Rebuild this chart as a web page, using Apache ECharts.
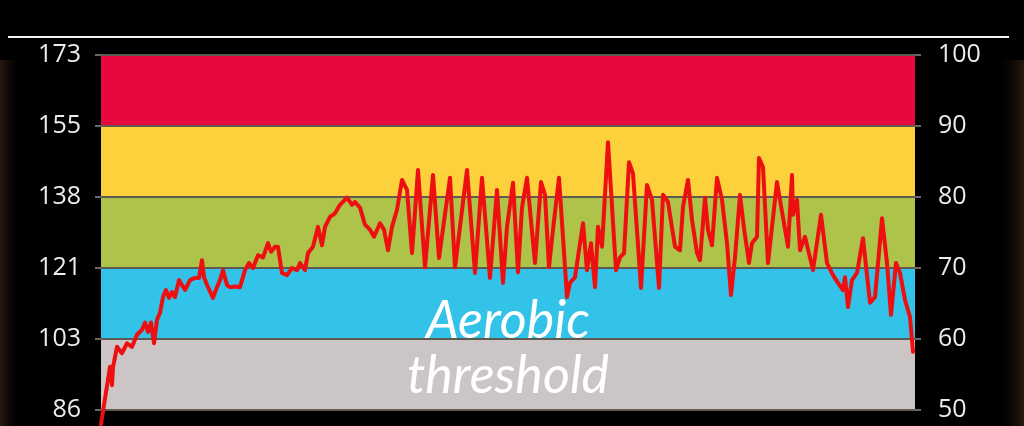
<!DOCTYPE html>
<html>
<head>
<meta charset="utf-8">
<script src="https://cdn.jsdelivr.net/npm/echarts@6/dist/echarts.min.js"></script>
<style>
  html, body { margin: 0; padding: 0; background: #000; }
  #chart { width: 1024px; height: 426px; }
</style>
</head>
<body>
<div id="chart"></div>
<script>
// Heart-rate zone boundaries (% of max HR) and tick labels
const zoneBounds = [50, 60, 70, 80, 90, 100];
const leftTickLabels = ['86', '103', '121', '138', '155', '173'];   // bpm
const rightTickLabels = ['50', '60', '70', '80', '90', '100'];     // % of max
const zoneLabel = ['Aerobic', 'threshold'];

// [elapsed minutes, heart rate % of max]
const samples = [
  [0, 48.0], [0.9, 56.1], [1.1, 53.5], [1.2, 56.0], [1.6, 58.9], [2.1, 58.0], [2.6, 59.4], [3.1, 58.9],
  [3.6, 60.6], [4.1, 61.3], [4.4, 62.3], [4.7, 61.0], [5.0, 62.3], [5.3, 59.4], [5.6, 62.7], [5.9, 63.7],
  [6.2, 65.9], [6.5, 66.9], [6.8, 65.8], [7.1, 66.6], [7.4, 65.9], [7.8, 68.3], [8.1, 67.6], [8.4, 66.9],
  [8.9, 68.3], [9.4, 68.6], [9.8, 68.6], [10.1, 71.1], [10.3, 68.7], [10.7, 67.3], [11.2, 65.8], [11.6, 67.3],
  [11.9, 68.3], [12.2, 69.7], [12.6, 67.6], [12.9, 67.3], [13.4, 67.4], [13.9, 67.3], [14.4, 69.7], [14.8, 70.7],
  [15.2, 70.0], [15.7, 71.8], [16.2, 71.5], [16.7, 73.5], [17.0, 72.3], [17.4, 73.0], [17.7, 73.0], [18.1, 69.3],
  [18.6, 69.0], [19.1, 70.0], [19.6, 69.7], [19.9, 70.7], [20.4, 69.7], [20.7, 72.1], [21.2, 73.0], [21.7, 75.8],
  [22.1, 73.2], [22.4, 75.8], [22.9, 77.2], [23.4, 77.7], [23.9, 78.9], [24.6, 79.9], [25.1, 78.9], [25.4, 79.3],
  [25.9, 78.5], [26.4, 76.1], [26.9, 75.4], [27.3, 74.4], [27.9, 76.3], [28.3, 75.4], [28.7, 72.5], [29.1, 75.8],
  [29.6, 78.2], [30.1, 82.4], [30.6, 81.0], [31.1, 72.1], [31.7, 83.8], [32.4, 70.1], [33.2, 83.1], [33.8, 71.4],
  [34.9, 82.7], [35.4, 70.1], [36.6, 83.8], [37.4, 69.3], [38.1, 82.7], [38.9, 68.6], [39.6, 81.0], [40.2, 67.9],
  [40.6, 75.8], [41.2, 82.0], [41.7, 69.4], [42.1, 78.5], [42.6, 82.7], [43.4, 70.7], [44.0, 82.1], [44.4, 80.3],
  [44.8, 70.1], [45.2, 75.4], [45.8, 82.7], [46.6, 65.9], [46.9, 67.9], [47.4, 68.7], [48.2, 76.3], [48.6, 69.7],
  [49.0, 73.5], [49.4, 67.3], [49.7, 75.8], [50.1, 73.0], [50.7, 87.7], [51.5, 69.7], [51.9, 71.5], [52.3, 72.1],
  [52.8, 84.9], [53.2, 83.3], [54.0, 67.2], [54.6, 81.7], [55.1, 79.6], [55.8, 67.2], [56.2, 80.3], [56.7, 79.3],
  [57.4, 73.0], [57.9, 72.5], [58.2, 78.6], [58.7, 82.4], [59.1, 76.8], [59.6, 72.1], [59.9, 71.1], [60.4, 79.9],
  [60.7, 75.4], [61.1, 73.2], [61.6, 82.7], [62.1, 79.6], [62.6, 73.5], [63.0, 66.2], [63.4, 71.5], [63.9, 80.3],
  [64.3, 75.6], [64.8, 70.7], [65.1, 73.5], [65.6, 74.4], [65.8, 85.5], [66.2, 84.2], [66.7, 70.7], [67.6, 82.1],
  [67.9, 79.6], [68.7, 73.0], [69.1, 83.1], [69.2, 77.5], [69.6, 79.6], [69.9, 72.5], [70.4, 74.4], [71.2, 69.7],
  [72.0, 77.5], [72.6, 70.7], [73.2, 69.0], [73.7, 67.9], [74.2, 66.9], [74.4, 68.7], [74.7, 64.5], [75.1, 68.3],
  [75.6, 69.3], [76.2, 74.2], [76.9, 65.1], [77.4, 65.9], [78.1, 77.0], [78.6, 70.7], [79.0, 63.4], [79.5, 70.7],
  [79.9, 69.3], [80.4, 65.5], [80.9, 63.1], [81.2, 58.2]
];

const zoneColors = ['#cbc5c6', '#33c2e8', '#adc34a', '#fdd13b', '#e8083f'];

const bandData = [];
for (let i = 0; i < zoneBounds.length - 1; i++) {
  bandData.push([
    { yAxis: zoneBounds[i], itemStyle: { color: zoneColors[i] } },
    { yAxis: zoneBounds[i + 1] }
  ]);
}

const chart = echarts.init(document.getElementById('chart'), null, { renderer: 'canvas' });

const axisCommon = {
  type: 'value', min: 50, max: 100, interval: 10,
  axisLine: { show: false },
  axisTick: { show: true, length: 6, lineStyle: { color: '#8a8a8a', width: 1.5 } },
  splitLine: { show: true, lineStyle: { color: '#5e5a52', width: 2 } },
  z: 1.5
};

chart.setOption({
  backgroundColor: '#000',
  animation: false,
  grid: { left: 101, right: 109, top: 55, bottom: 16, containLabel: false },
  xAxis: { type: 'value', min: 0, max: 81.4, show: false },
  yAxis: [
    Object.assign({}, axisCommon, {
      position: 'left',
      axisLabel: {
        color: '#ececec', fontFamily: 'Open Sans', fontSize: 25, margin: 20,
        formatter: v => leftTickLabels[Math.round((v - 50) / 10)]
      }
    }),
    Object.assign({}, axisCommon, {
      position: 'right',
      splitLine: { show: false },
      axisLabel: {
        color: '#ececec', fontFamily: 'Open Sans', fontSize: 25, margin: 23,
        formatter: v => rightTickLabels[Math.round((v - 50) / 10)]
      }
    })
  ],
  graphic: [
    { type: 'rect', shape: { x: 0, y: 60, width: 22, height: 366 }, silent: true, z: -10,
      style: { fill: new echarts.graphic.LinearGradient(0, 0, 1, 0, [
        { offset: 0, color: 'rgba(60,34,24,0.7)' }, { offset: 1, color: 'rgba(0,0,0,0)' }]) } },
    { type: 'rect', shape: { x: 996, y: 60, width: 28, height: 366 }, silent: true, z: -10,
      style: { fill: new echarts.graphic.LinearGradient(0, 0, 1, 0, [
        { offset: 0, color: 'rgba(0,0,0,0)' }, { offset: 1, color: 'rgba(60,34,24,0.7)' }]) } },
    { type: 'rect', shape: { x: 8, y: 36, width: 1001, height: 2 }, silent: true,
      style: { fill: '#f2f2f2' } },
    { type: 'text', x: 508, y: 321, z: 10, silent: true,
      style: { text: zoneLabel[0], fill: '#ffffff', font: 'italic 52px Lato', align: 'center', verticalAlign: 'middle' } },
    { type: 'text', x: 508, y: 376, z: 10, silent: true,
      style: { text: zoneLabel[1], fill: '#ffffff', font: 'italic 52px Lato', align: 'center', verticalAlign: 'middle' } }
  ],
  series: [
    {
      type: 'line', data: [], z: 1, silent: true,
      markArea: { silent: true, data: bandData }
    },
    {
      type: 'line', data: samples, yAxisIndex: 1, z: 3,
      showSymbol: false, symbol: 'none', clip: false,
      lineStyle: { color: '#ee1010', width: 4, join: 'round', cap: 'round' }
    }
  ]
});
</script>
</body>
</html>
